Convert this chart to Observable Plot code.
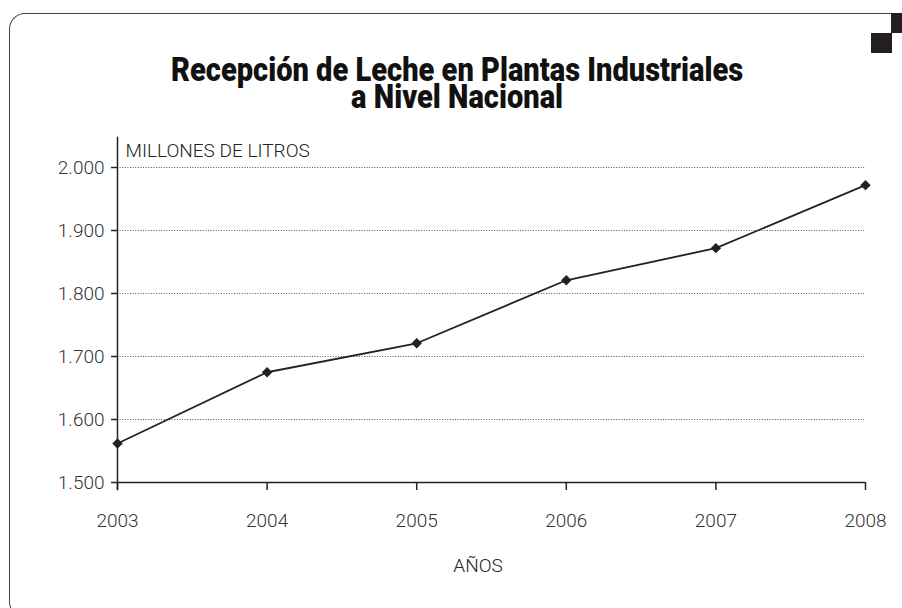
<!DOCTYPE html>
<html>
<head>
<meta charset="utf-8">
<script src="https://cdn.jsdelivr.net/npm/d3@7"></script>
<script src="https://cdn.jsdelivr.net/npm/@observablehq/plot@0.6"></script>
<style>
  html, body { margin: 0; padding: 0; background: #fff; }
  #wrap { position: relative; width: 902px; height: 608px; overflow: hidden; background: #fff; }
  #frame { position: absolute; left: 9px; top: 13px; width: 900px; height: 605px;
           border-left: 1.5px solid #444; border-top: 1.5px solid #444; border-bottom: 1.5px solid #444;
           border-top-left-radius: 16px; border-bottom-left-radius: 16px; box-sizing: border-box; }
  .sq { position: absolute; background: #231f20; }
  #title { position: absolute; left: 0; top: 56px; width: 914px; text-align: center;
           font-family: Roboto, "DejaVu Sans Condensed", sans-serif;
           font-weight: 900; font-size: 33px; line-height: 27px; color: #111; }
  #title span { display: inline-block; transform: scaleX(0.88); transform-origin: center; white-space: nowrap; text-align: center; }
  #chart { position: absolute; left: 0; top: 130px; }
  #chart svg { font-family: Roboto, "DejaVu Sans Condensed", sans-serif; }
</style>
</head>
<body>
<div id="wrap">
  <div id="frame"></div>
  <div class="sq" style="left:891px;top:13px;width:11px;height:20px"></div>
  <div class="sq" style="left:871px;top:33px;width:21px;height:20px"></div>
  <div id="title"><span>Recepción de Leche en Plantas Industriales<br>a Nivel Nacional</span></div>
  <div id="chart"></div>
</div>
<script>
const years = [2003, 2004, 2005, 2006, 2007, 2008];
const values = [1562, 1675, 1721, 1821, 1872, 1972];
const yTicks = [1500, 1600, 1700, 1800, 1900, 2000];
const gridTicks = [1600, 1700, 1800, 1900, 2000];
const yLabel = "MILLONES DE LITROS";
const xLabel = "AÑOS";

const data = years.map((y, i) => ({year: y, value: values[i]}));
const fmt = d => d3.format(",")(d).replace(/,/g, ".");

const chart = Plot.plot({
  width: 902,
  height: 478,
  marginLeft: 117,
  marginRight: 37,
  marginTop: 37,
  marginBottom: 126,
  style: {fontSize: "19px", color: "#333", background: "transparent"},
  x: {domain: [2003, 2008], label: null},
  y: {domain: [1500, 2000], label: null},
  marks: [
    Plot.ruleY(gridTicks, {x1: 2003, x2: 2008, stroke: "#555", strokeWidth: 1, strokeDasharray: "1,1.6"}),
    Plot.axisY(yTicks, {tickSize: 6, tickPadding: 7, tickFormat: fmt, stroke: "#222", strokeWidth: 1.5, fill: "#333", fontSize: 19, fontWeight: 300}),
    Plot.axisX(years, {tickSize: 8, tickPadding: 23, tickFormat: d => String(d), stroke: "#222", strokeWidth: 1.5, fill: "#333", fontSize: 19, fontWeight: 300}),
    Plot.ruleX([2003], {y1: 1487, y2: 2048, stroke: "#222", strokeWidth: 1.5}),
    Plot.ruleY([1500], {x1: 2003, x2: 2008, stroke: "#222", strokeWidth: 1.5}),
    Plot.line(data, {x: "year", y: "value", stroke: "#222", strokeWidth: 1.8}),
    Plot.dot(data, {x: "year", y: "value", symbol: "diamond2", r: 4.7, fill: "#222", stroke: "none"}),
    Plot.text([yLabel], {x: 2003, y: 2027, dx: 8, textAnchor: "start", fontSize: 19, fontWeight: 300, fill: "#222"}),
    Plot.text([xLabel], {x: 2005.41, y: 1367, fontSize: 19, fontWeight: 300, fill: "#222"})
  ]
});
document.getElementById("chart").appendChild(chart);
</script>
</body>
</html>
